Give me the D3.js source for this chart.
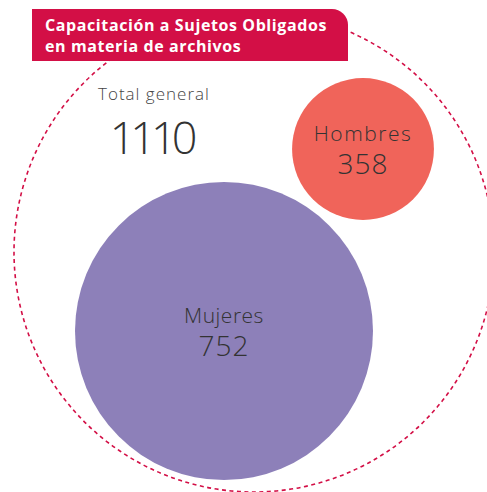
<!DOCTYPE html>
<html>
<head>
<meta charset="utf-8">
<script src="https://cdn.jsdelivr.net/npm/d3@7"></script>
<style>
  body { margin: 0; background: #fff; }
  svg { display: block; }
  text { font-family: "Open Sans", "Noto Sans", sans-serif; }
</style>
</head>
<body>
<div id="chart"></div>
<script>
var titleLines = ["Capacitación a Sujetos Obligados", "en materia de archivos"];
var totalLabel = "Total general";
var totalValue = 1110;
var categories = ["Mujeres", "Hombres"];
var values = [752, 358];
var colors = ["#8D80B9", "#F0645A"];

var width = 487, height = 492;
var accent = "#D30F46";

// bubble centres (layout only)
var centers = [[224, 331], [363, 149]];
var outer = {cx: 254, cy: 252, r: 240};

var svg = d3.select("#chart").append("svg")
    .attr("width", width)
    .attr("height", height);

// radius proportional to value
var r = d3.scaleLinear()
    .domain([0, d3.max(values)])
    .range([0, 149]);

// dashed outer ring
svg.append("circle")
    .attr("cx", outer.cx)
    .attr("cy", outer.cy)
    .attr("r", outer.r)
    .attr("fill", "none")
    .attr("stroke", accent)
    .attr("stroke-width", 1.6)
    .attr("stroke-dasharray", "4,3.5");

var bubbles = svg.selectAll(".bubble")
    .data(categories)
    .enter().append("g")
    .attr("class", "bubble")
    .attr("transform", function(d, i) { return "translate(" + centers[i][0] + "," + centers[i][1] + ")"; });

bubbles.append("circle")
    .attr("r", function(d, i) { return r(values[i]); })
    .attr("fill", function(d, i) { return colors[i]; });

bubbles.append("text")
    .attr("text-anchor", "middle")
    .attr("y", -8)
    .attr("font-size", 21)
    .attr("font-weight", 300)
    .attr("letter-spacing", function(d, i) { return i ? 1.5 : 0.5; })
    .attr("fill", "#333")
    .text(function(d) { return d; });

bubbles.append("text")
    .attr("text-anchor", "middle")
    .attr("y", 25)
    .attr("font-size", 28)
    .attr("font-weight", 300)
    .attr("letter-spacing", 1)
    .attr("fill", "#333")
    .text(function(d, i) { return values[i]; });

// total
svg.append("text")
    .attr("x", 98)
    .attr("y", 100)
    .attr("font-size", 17)
    .attr("font-weight", 300)
    .attr("letter-spacing", 1)
    .attr("fill", "#444")
    .text(totalLabel);

svg.append("text")
    .attr("x", 151)
    .attr("y", 154)
    .attr("text-anchor", "middle")
    .attr("font-size", 45)
    .attr("font-weight", 300)
    .attr("letter-spacing", -5)
    .attr("fill", "#333")
    .text(totalValue);

// title tab with rounded top-right corner
var bx = 32, by = 9, bw = 316, bh = 52, rad = 16;
svg.append("path")
    .attr("d", "M" + bx + "," + by +
        "H" + (bx + bw - rad) +
        "A" + rad + "," + rad + " 0 0 1 " + (bx + bw) + "," + (by + rad) +
        "V" + (by + bh) + "H" + bx + "Z")
    .attr("fill", accent);

svg.append("g").selectAll("text")
    .data(titleLines)
    .enter().append("text")
    .attr("x", 45)
    .attr("y", function(d, i) { return 31 + i * 21; })
    .attr("font-size", 16)
    .attr("font-weight", 700)
    .attr("letter-spacing", 0.6)
    .attr("fill", "#fff")
    .text(function(d) { return d; });
</script>
</body>
</html>
